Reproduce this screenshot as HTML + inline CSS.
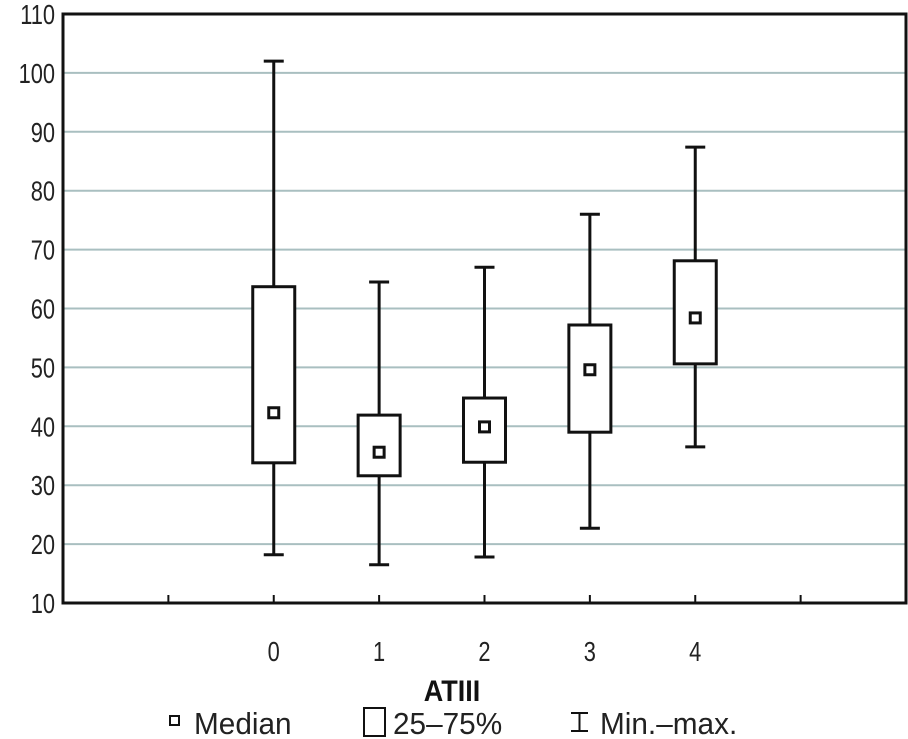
<!DOCTYPE html>
<html><head><meta charset="utf-8"><style>
body{margin:0;background:#fff}
svg{display:block;font-family:"Liberation Sans Narrow","Liberation Sans",sans-serif}
</style></head><body>
<svg id="chart" width="908" height="739" viewBox="0 0 908 739"></svg>
<script>
const categories=["0","1","2","3","4"];
const mins=[18.2,16.5,17.8,22.7,36.5];
const q1s=[33.8,31.6,33.9,39.0,50.6];
const medians=[42.3,35.6,39.9,49.6,58.4];
const q3s=[63.7,41.9,44.8,57.2,68.1];
const maxs=[102,64.5,67,76,87.4];
const yTicks=[10,20,30,40,50,60,70,80,90,100,110];

const NS="http://www.w3.org/2000/svg";
const svg=document.getElementById('chart');
const L=63,R=906,T=14,B=603;
const x=i=>L+(i+2)/8*(R-L);
const y=v=>B-(v-10)/100*(B-T);
function mk(tag,attrs,parent){const e=document.createElementNS(NS,tag);for(const k in attrs)e.setAttribute(k,attrs[k]);(parent||svg).appendChild(e);return e;}

yTicks.forEach(t=>{
  if(t>10&&t<110){const g=mk('line',{x1:L,x2:R,y1:y(t),y2:y(t),stroke:'#a9bfc0','stroke-width':2});
  
  }
  const tx=mk('text',{transform:'translate(55,'+(y(t)+10)+') scale(0.78,1)','text-anchor':'end','font-size':28,fill:'#222'});
  tx.textContent=t;
  
  
});
for(let i=-1;i<=5;i++){const tk=mk('line',{x1:x(i),x2:x(i),y1:B,y2:B-8,stroke:'#111','stroke-width':2});
  
  }
const frame=mk('rect',{x:L,y:T,width:R-L,height:B-T,fill:'none',stroke:'#111','stroke-width':3});



categories.forEach((c,i)=>{
  const cx=x(i);
  const g=mk('g',{});
  
  
  mk('line',{x1:cx,x2:cx,y1:y(maxs[i]),y2:y(q3s[i]),stroke:'#111','stroke-width':3},g);
  mk('line',{x1:cx,x2:cx,y1:y(q1s[i]),y2:y(mins[i]),stroke:'#111','stroke-width':3},g);
  mk('line',{x1:cx-10,x2:cx+10,y1:y(maxs[i]),y2:y(maxs[i]),stroke:'#111','stroke-width':3},g);
  mk('line',{x1:cx-10,x2:cx+10,y1:y(mins[i]),y2:y(mins[i]),stroke:'#111','stroke-width':3},g);
  mk('rect',{x:cx-21,y:y(q3s[i]),width:42,height:y(q1s[i])-y(q3s[i]),fill:'#fff',stroke:'#111','stroke-width':3},g);
  mk('rect',{x:cx-5,y:y(medians[i])-5,width:10,height:10,fill:'#fff',stroke:'#111','stroke-width':3},g);
  const t=mk('text',{transform:'translate('+cx+',661) scale(0.78,1)','text-anchor':'middle','font-size':28,fill:'#222'});
  t.textContent=c;
  
  
});
</script>
<svg style="position:absolute;left:0;top:0" width="908" height="739" font-family="Liberation Sans, sans-serif">
<text transform="translate(452,701) scale(0.9,1)" text-anchor="middle" font-size="30" font-weight="bold" fill="#111">ATIII</text>
<g>
<rect x="170" y="716" width="9" height="9" fill="#fff" stroke="#111" stroke-width="2"/>
<text transform="translate(194,734) scale(0.96,1)" font-size="31" fill="#222">Median</text></g>
<g>
<rect x="364" y="708" width="21" height="28" fill="#fff" stroke="#111" stroke-width="2"/>
<text transform="translate(393,734) scale(0.96,1)" font-size="31" fill="#222">25–75%</text></g>
<g>
<path d="M571 713H588M579.5 713V731M571 731H588" stroke="#111" stroke-width="2" fill="none"/>
<text transform="translate(600,734) scale(0.96,1)" font-size="31" fill="#222">Min.–max.</text></g>
</svg>
</body></html>
